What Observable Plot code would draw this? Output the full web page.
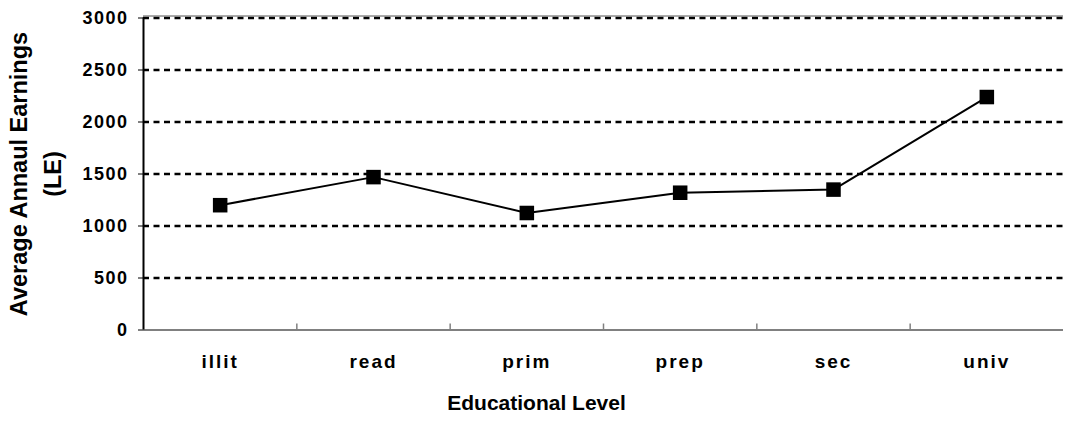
<!DOCTYPE html>
<html>
<head>
<meta charset="utf-8">
<script src="https://cdn.jsdelivr.net/npm/d3@7"></script>
<script src="https://cdn.jsdelivr.net/npm/@observablehq/plot@0.6"></script>
<style>
  html, body { margin: 0; padding: 0; background: #fff; }
  #chart { width: 1065px; height: 423px; }
</style>
</head>
<body>
<div id="chart"></div>
<script>
const categories = ["illit", "read", "prim", "prep", "sec", "univ"];
const earnings = [1200, 1470, 1125, 1320, 1350, 2240];
const yTicks = [0, 500, 1000, 1500, 2000, 2500, 3000];
const yTitle = ["Average Annaul Earnings", "(LE)"];
const xTitle = "Educational Level";

const data = categories.map((c, i) => ({ pos: i + 0.5, cat: c, value: earnings[i] }));
const centers = categories.map((c, i) => i + 0.5);
const bounds = d3.range(0, categories.length + 1);

const font = "'Liberation Sans', Arial, sans-serif";

const chart = Plot.plot({
  width: 1065,
  height: 423,
  marginLeft: 143,
  marginRight: 2,
  marginTop: 17.5,
  marginBottom: 93.5,
  style: { fontFamily: font, background: "#fff", color: "#000", overflow: "visible" },
  x: { type: "linear", domain: [0, categories.length] },
  y: { domain: [0, 3000] },
  marks: [
    Plot.ruleY(yTicks.filter(v => v > 0), { stroke: "#000", strokeWidth: 2.5, strokeDasharray: "6,4.5" }),
    Plot.ruleY([3000], { stroke: "#555", strokeWidth: 1, dy: -2 }),
    Plot.ruleY([0], { stroke: "#808080", strokeWidth: 2 }),
    Plot.ruleX(bounds.slice(1, -1), { stroke: "#808080", strokeWidth: 1.5, insetTop: 306 }),
    Plot.ruleX([0], { stroke: "#000", strokeWidth: 2 }),
    Plot.axisY({
      ticks: yTicks, tickSize: 5, tickPadding: 10, tickFormat: d => String(d),
      fontSize: 18, fontWeight: "bold", stroke: "#000", label: null
    }),
    Plot.axisX({
      ticks: centers, tickSize: 0, tickPadding: 24,
      tickFormat: d => categories[Math.floor(d)],
      fontSize: 19, fontWeight: "bold", label: null
    }),
    Plot.line(data, { x: "pos", y: "value", stroke: "#000", strokeWidth: 2 }),
    Plot.dot(data, { x: "pos", y: "value", symbol: "square", r: 8.2, fill: "#000", stroke: "none" }),
    Plot.text([yTitle[0]], { text: d => d, frameAnchor: "left", textAnchor: "middle", dx: -124, rotate: -90, fontSize: 23.5, fontWeight: "bold" }),
    Plot.text([yTitle[1]], { text: d => d, frameAnchor: "left", textAnchor: "middle", dx: -90, rotate: -90, fontSize: 23.5, fontWeight: "bold" }),
    Plot.text([xTitle], { text: d => d, frameAnchor: "bottom", textAnchor: "middle", dx: -67, dy: 80, fontSize: 21, fontWeight: "bold" })
  ]
});

d3.select(chart).selectAll("g[aria-label='x-axis tick label'] text").style("letter-spacing", "2px");
d3.select(chart).selectAll("g[aria-label='y-axis tick label'] text").style("letter-spacing", "1.5px");

document.getElementById("chart").appendChild(chart);
</script>
</body>
</html>
